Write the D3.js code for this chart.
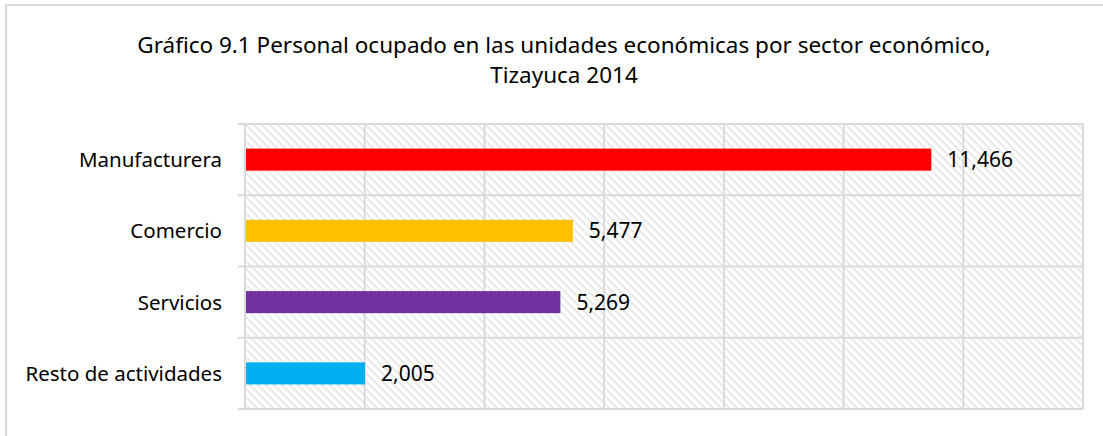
<!DOCTYPE html>
<html>
<head>
<meta charset="utf-8">
<script src="https://cdn.jsdelivr.net/npm/d3@7"></script>
<style>
  body { margin: 0; background: #fff; }
  text { font-family: "Noto Sans", sans-serif; fill: #000; }
</style>
</head>
<body>
<div id="chart"></div>
<script>
const WIDTH = 1103;
const HEIGHT = 436;

// === DATA ===
const categories = ["Manufacturera", "Comercio", "Servicios", "Resto de actividades"];
const values = [11466, 5477, 5269, 2005];
const colors = ["#FF0000", "#FFC000", "#7030A0", "#00B0F0"];
const xTicks = [0, 2000, 4000, 6000, 8000, 10000, 12000, 14000];
const titleLines = [
    "Gráfico 9.1 Personal ocupado en las unidades económicas por sector económico,",
    "Tizayuca 2014"
];

const margin = { left: 245, right: 20, top: 124, bottom: 27 };
const plotW = WIDTH - margin.left - margin.right;
const plotH = HEIGHT - margin.top - margin.bottom;

const svg = d3.select("#chart")
    .append("svg")
    .attr("width", WIDTH)
    .attr("height", HEIGHT);

// hatch pattern
const defs = svg.append("defs");
const pat = defs.append("pattern")
    .attr("id", "hatch")
    .attr("patternUnits", "userSpaceOnUse")
    .attr("width", 8)
    .attr("height", 8);
pat.append("path")
    .attr("d", "M-2,-2 L10,10 M-2,6 L2,10 M6,-2 L10,2")
    .attr("stroke", "#e1e1e1")
    .attr("stroke-width", 1.3);

// outer frame
svg.append("rect")
    .attr("x", 6).attr("y", 5)
    .attr("width", WIDTH + 10).attr("height", HEIGHT + 10)
    .attr("fill", "none")
    .attr("stroke", "#d9d9d9")
    .attr("stroke-width", 2);

// title
svg.selectAll(".title")
    .data(titleLines)
    .enter()
    .append("text")
    .attr("class", "title")
    .attr("x", 564)
    .attr("y", (d, i) => 53 + i * 30)
    .attr("text-anchor", "middle")
    .style("font-size", "22.5px")
    .text(d => d);

const g = svg.append("g")
    .attr("transform", `translate(${margin.left},${margin.top})`);

const x = d3.scaleLinear().domain([0, 14000]).range([0, plotW]);
const y = d3.scaleBand().domain(categories).range([0, plotH]).paddingInner(0.69).paddingOuter(0.345);
const yCells = d3.scaleBand().domain(categories).range([0, plotH]);

// background
g.append("rect")
    .attr("width", plotW)
    .attr("height", plotH)
    .attr("fill", "url(#hatch)");

// vertical grid
g.selectAll(".vgrid")
    .data(xTicks)
    .enter()
    .append("line")
    .attr("x1", d => x(d)).attr("x2", d => x(d))
    .attr("y1", 0).attr("y2", plotH)
    .attr("stroke", "#d9d9d9")
    .attr("stroke-width", 2);

// horizontal grid (category boundaries)
const bounds = categories.map(c => yCells(c)).concat([plotH]);
g.selectAll(".hgrid")
    .data(bounds)
    .enter()
    .append("line")
    .attr("x1", -7).attr("x2", plotW)
    .attr("y1", d => d).attr("y2", d => d)
    .attr("stroke", "#d9d9d9")
    .attr("stroke-width", 2);

// bars
g.selectAll(".bar")
    .data(values)
    .enter()
    .append("rect")
    .attr("x", x(0) + 1)
    .attr("y", (d, i) => y(categories[i]))
    .attr("width", d => x(d) - x(0) - 1)
    .attr("height", y.bandwidth())
    .attr("fill", (d, i) => colors[i]);

// value labels
g.selectAll(".val")
    .data(values)
    .enter()
    .append("text")
    .attr("x", d => x(d) + 16)
    .attr("y", (d, i) => y(categories[i]) + y.bandwidth() / 2)
    .attr("dy", "0.36em")
    .style("font-size", "21px")
    .text(d => d3.format(",")(d));

// category labels
g.selectAll(".cat")
    .data(categories)
    .enter()
    .append("text")
    .attr("x", -23)
    .attr("y", d => y(d) + y.bandwidth() / 2)
    .attr("dy", "0.36em")
    .attr("text-anchor", "end")
    .style("font-size", "20.5px")
    .text(d => d);
</script>
</body>
</html>
